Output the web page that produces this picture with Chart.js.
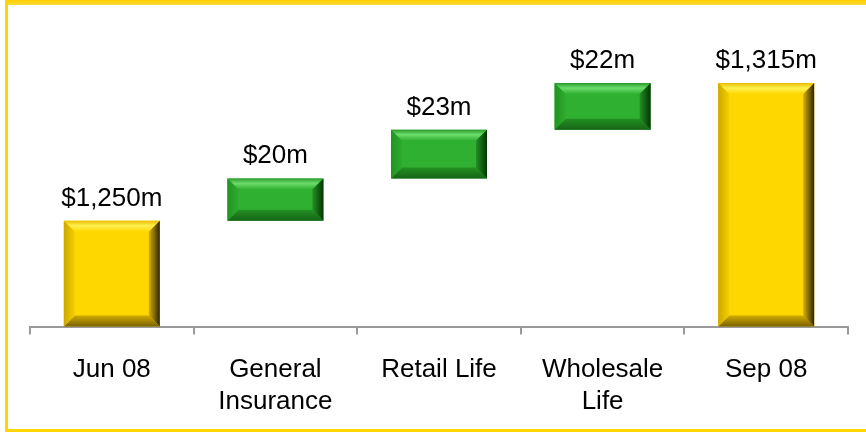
<!DOCTYPE html>
<html>
<head>
<meta charset="utf-8">
<script src="https://cdn.jsdelivr.net/npm/chart.js@4/dist/chart.umd.min.js"></script>
<style>
  html, body { margin: 0; padding: 0; background: #fff; }
  #wrap { position: relative; width: 866px; height: 432px; overflow: hidden; }
  #c { position: absolute; left: 0; top: 0; }
  .bd { position: absolute; background: #FFD61E; }
</style>
</head>
<body>
<div id="wrap">
  <canvas id="c" width="866" height="432"></canvas>
  <div class="bd" style="left:5px;top:0;width:861px;height:5px;background:linear-gradient(#FFD000,#FFDA3A);"></div>
  <div class="bd" style="left:5px;top:0;width:3px;height:432px;background:#FFD500;"></div>
  <div class="bd" style="left:5px;top:429px;width:861px;height:3px;background:#FFD500;"></div>
</div>
<script>
const categories = [['Jun 08'], ['General', 'Insurance'], ['Retail Life'], ['Wholesale', 'Life'], ['Sep 08']];
const values = [1250, 20, 23, 22, 1315];
const kinds = ['total', 'change', 'change', 'change', 'total'];
const valueLabels = ['$1,250m', '$20m', '$23m', '$22m', '$1,315m'];
const yMin = 1200;
const yMax = 1350;

// Build floating ranges from the values
const ranges = [];
let running = 0;
values.forEach((v, i) => {
  if (kinds[i] === 'total') { running = v; ranges.push([yMin, v]); }
  else { ranges.push([running, running + v]); running += v; }
});

const palettes = {
  total: { face: '#FFD700', topEdge: '#E8BE00', topLight: '#FFF050', rightIn: '#D6B000', rightOut: '#2E2400',
           botIn: '#CFAA00', botOut: '#7A6200', leftOut: '#CCA800', leftIn: '#F4CF00' },
  change: { face: '#30B030', topEdge: '#2A9A2A', topLight: '#6CDC6C', rightIn: '#229022', rightOut: '#053505',
            botIn: '#239023', botOut: '#156515', leftOut: '#219421', leftIn: '#2EAA2E' }
};

const fontFam = '"Liberation Sans", Arial, sans-serif';

const bevelPlugin = {
  id: 'bevel',
  afterDatasetsDraw(chart) {
    const ctx = chart.ctx;
    const meta = chart.getDatasetMeta(0);
    meta.data.forEach((bar, i) => {
      const p = bar.getProps(['x', 'y', 'base', 'width'], true);
      const l = p.x - p.width / 2, r = p.x + p.width / 2;
      const t = Math.min(p.y, p.base), b = Math.max(p.y, p.base);
      const s = Math.min(11, (b - t) / 3.5);
      const c = palettes[kinds[i]];
      ctx.save();
      let g = ctx.createLinearGradient(0, t, 0, t + s);
      g.addColorStop(0, c.topEdge); g.addColorStop(0.45, c.topLight); g.addColorStop(1, c.face);
      ctx.fillStyle = g;
      ctx.beginPath(); ctx.moveTo(l, t); ctx.lineTo(r, t); ctx.lineTo(r - s, t + s); ctx.lineTo(l + s, t + s); ctx.closePath(); ctx.fill();
      g = ctx.createLinearGradient(0, b - s, 0, b);
      g.addColorStop(0, c.botIn); g.addColorStop(1, c.botOut);
      ctx.fillStyle = g;
      ctx.beginPath(); ctx.moveTo(l, b); ctx.lineTo(r, b); ctx.lineTo(r - s, b - s); ctx.lineTo(l + s, b - s); ctx.closePath(); ctx.fill();
      g = ctx.createLinearGradient(l, 0, l + s, 0);
      g.addColorStop(0, c.leftOut); g.addColorStop(1, c.leftIn);
      ctx.fillStyle = g;
      ctx.beginPath(); ctx.moveTo(l, t); ctx.lineTo(l + s, t + s); ctx.lineTo(l + s, b - s); ctx.lineTo(l, b); ctx.closePath(); ctx.fill();
      g = ctx.createLinearGradient(r - s, 0, r, 0);
      g.addColorStop(0, c.rightIn); g.addColorStop(1, c.rightOut);
      ctx.fillStyle = g;
      ctx.beginPath(); ctx.moveTo(r, t); ctx.lineTo(r - s, t + s); ctx.lineTo(r - s, b - s); ctx.lineTo(r, b); ctx.closePath(); ctx.fill();
      ctx.restore();
    });
  }
};

const labelPlugin = {
  id: 'valueLabels',
  afterDatasetsDraw(chart) {
    const ctx = chart.ctx;
    const meta = chart.getDatasetMeta(0);
    ctx.save();
    ctx.font = '26px ' + fontFam;
    ctx.fillStyle = '#000';
    ctx.textAlign = 'center';
    ctx.textBaseline = 'alphabetic';
    meta.data.forEach((bar, i) => {
      const p = bar.getProps(['x', 'y', 'base'], true);
      const t = Math.min(p.y, p.base);
      ctx.fillText(valueLabels[i], p.x, t - 15);
    });
    ctx.restore();
  }
};

new Chart(document.getElementById('c'), {
  type: 'bar',
  data: {
    labels: categories,
    datasets: [{
      data: ranges,
      backgroundColor: kinds.map(k => palettes[k].face),
      borderWidth: 0,
      borderSkipped: false,
      barPercentage: 0.587,
      categoryPercentage: 1.0
    }]
  },
  options: {
    responsive: false,
    animation: false,
    events: [],
    layout: { padding: { left: 30, right: 18, top: 9, bottom: -5 } },
    plugins: { legend: { display: false }, tooltip: { enabled: false } },
    scales: {
      x: {
        grid: { display: true, drawOnChartArea: false, drawTicks: true, tickLength: 8, color: '#9A9A9A', lineWidth: 2, offset: true },
        border: { display: true, color: '#9A9A9A', width: 2 },
        ticks: { color: '#000', font: { family: fontFam, size: 26, lineHeight: 1.2 }, maxRotation: 0, autoSkip: false, padding: 20 }
      },
      y: { display: false, min: yMin, max: yMax }
    }
  },
  plugins: [bevelPlugin, labelPlugin]
});
</script>
</body>
</html>
